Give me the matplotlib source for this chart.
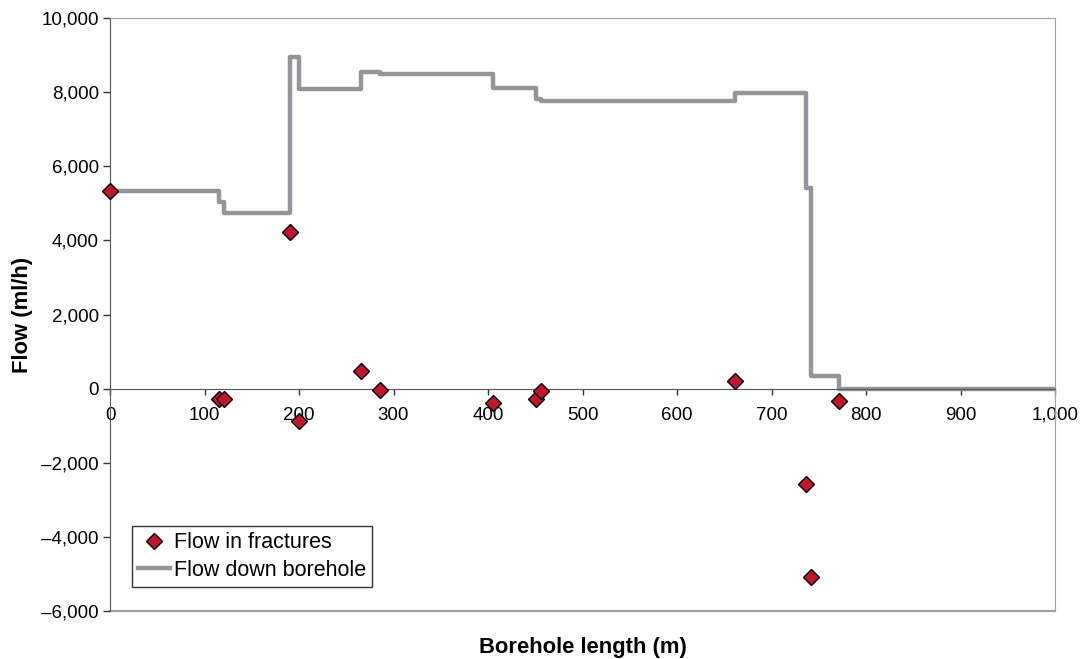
import numpy as np
import matplotlib.pyplot as plt
from matplotlib.ticker import FuncFormatter

plt.rcParams['font.family'] = ['Liberation Sans', 'DejaVu Sans']

# fracture positions along the borehole (m) and inflow/outflow at each (ml/h)
frac_x = [0, 115.6, 120.6, 190.5, 200.0, 265.3, 285.7, 405.6, 450.4, 455.8,
          661.4, 736.5, 741.5, 771.4]
frac_q = [5330, -287, -287, 4219, -871, 469, -45, -395, -287, -53,
          208, -2563, -5080, -332]

# flow down the borehole, constant between fractures
bore_x = [0, 115.6, 120.6, 190.5, 200.0, 265.3, 285.7, 405.6, 450.4, 455.8,
          661.4, 736.5, 741.5, 771.4, 1000]
bore_q = [5330, 5045, 4750, 8940, 8090, 8550, 8500, 8110, 7815, 7760,
          7970, 5400, 340, 0, 0]

xticks = np.arange(0, 1001, 100)
yticks = np.arange(-6000, 10001, 2000)


def fmt(v, pos):
    s = '{:,.0f}'.format(abs(v))
    return ('\u2013' + s) if v < 0 else s


fig = plt.figure(figsize=(10.86, 6.59), dpi=100)
ax = fig.add_axes([0.1013, 0.0728, 0.8702, 0.8999])

ax.plot(frac_x, frac_q, 'D', color='#c0172d', mec='black', mew=1.0, ms=8,
        label='Flow in fractures', zorder=3, clip_on=False)
ax.step(bore_x, bore_q, where='post', color='#939598', lw=3.2,
        label='Flow down borehole', zorder=2)

ax.set_xlim(0, 1000)
ax.set_ylim(-6000, 10000)
ax.set_xticks(xticks)
ax.set_yticks(yticks)
ax.xaxis.set_major_formatter(FuncFormatter(fmt))
ax.yaxis.set_major_formatter(FuncFormatter(fmt))

# x axis runs through zero, the outer frame stays light grey
ax.spines['bottom'].set_position(('data', 0))
ax.spines['bottom'].set_color('#555555')
ax.spines['left'].set_color('#555555')
for s in ['top', 'right']:
    ax.spines[s].set_color('#a0a0a0')
ax.axhline(-6000, color='#a0a0a0', lw=1.6, clip_on=False, zorder=1)
ax.tick_params(axis='x', direction='out', length=4, width=1,
               color='#333333', labelsize=13.5, pad=9)
ax.tick_params(axis='y', direction='out', length=5, width=1,
               color='#333333', labelsize=13.5, pad=3)

ax.set_xlabel('Borehole length (m)', fontsize=15.8, fontweight='bold')
ax.xaxis.set_label_coords(0.5, -0.043)
ax.set_ylabel('Flow (ml/h)', fontsize=15.8, fontweight='bold')
ax.yaxis.set_label_coords(-0.081, 0.5)

leg = ax.legend(loc='lower left', bbox_to_anchor=(0.023, 0.04), fontsize=15.5,
                frameon=True, fancybox=False, edgecolor='black',
                borderpad=0.3, handlelength=1.5, handletextpad=0.15,
                labelspacing=0.3, borderaxespad=0)
leg.get_frame().set_linewidth(1.0)

fig.savefig('out.png', dpi=100)
